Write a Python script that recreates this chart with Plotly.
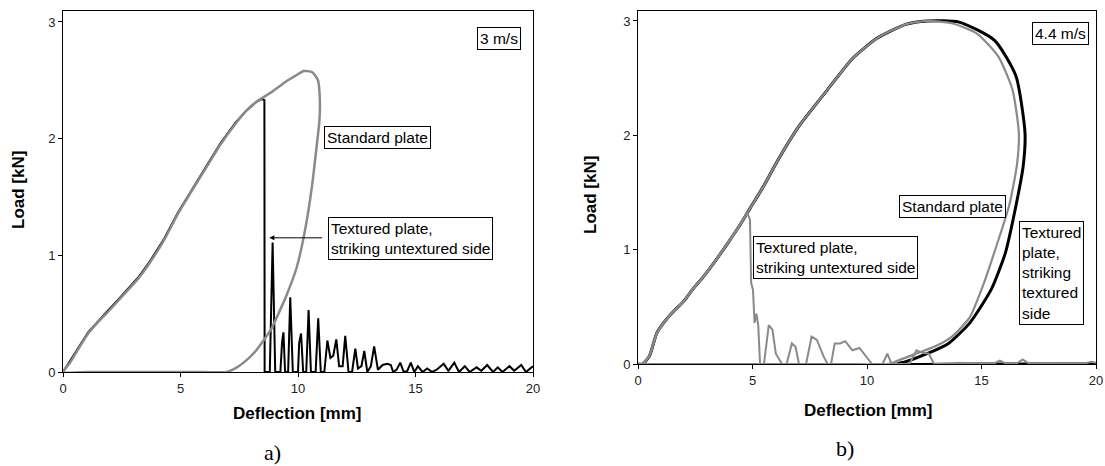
import plotly.graph_objects as go
from plotly.subplots import make_subplots

# ---------- Panel a) 3 m/s ----------
a_std_x = [0, 0.3, 0.6, 1.07, 1.5, 1.84, 2.3, 2.75, 3.2, 3.67, 4.3, 4.9, 5.5, 6.12, 6.7, 7.35, 7.8, 8.26, 8.88, 9.49, 9.9, 10.25, 10.6, 10.85, 10.93, 10.91, 10.83, 10.6, 10.33, 9.95, 9.49, 9.1, 8.88, 8.57, 8.2, 7.8, 7.4, 6.96, 6.0, 5.0, 4.0, 3.0, 2.0, 1.0, 0.0]
a_std_y = [0, 0.08, 0.18, 0.33, 0.43, 0.5, 0.6, 0.70, 0.80, 0.93, 1.13, 1.36, 1.56, 1.76, 1.95, 2.13, 2.24, 2.32, 2.40, 2.49, 2.54, 2.58, 2.57, 2.5, 2.33, 2.15, 2.0, 1.6, 1.25, 0.9, 0.647, 0.47, 0.376, 0.28, 0.18, 0.1, 0.04, 0.0, 0.0, 0.0, 0.0, 0.0, 0.0, 0.0, 0.0]

a_tex_x = [0, 0.3, 0.6, 1.07, 1.5, 1.84, 2.3, 2.75, 3.2, 3.67, 4.3, 4.9, 5.5, 6.12, 6.7, 7.35, 7.8, 8.2, 8.46, 8.57, 8.58, 8.8, 8.92, 9.03, 9.25, 9.32, 9.38, 9.45, 9.58, 9.67, 9.78, 10.0, 10.05, 10.13, 10.22, 10.35, 10.45, 10.55, 10.75, 10.86, 10.97, 11.12, 11.25, 11.38, 11.5, 11.63, 11.75, 11.9, 12.01, 12.15, 12.3, 12.44, 12.55, 12.7, 12.82, 12.95, 13.1, 13.24, 13.4, 13.6, 13.8, 13.95, 14.05, 14.2, 14.35, 14.5, 14.65, 14.8, 14.95, 15.1, 15.3, 15.5, 15.7, 15.9, 16.2, 16.4, 16.65, 16.85, 17.1, 17.3, 17.6, 17.8, 18.05, 18.3, 18.5, 18.7, 19.0, 19.2, 19.5, 19.7, 20.0]
a_tex_y = [0, 0.09, 0.19, 0.34, 0.44, 0.51, 0.61, 0.71, 0.81, 0.94, 1.14, 1.37, 1.57, 1.77, 1.96, 2.14, 2.24, 2.31, 2.34, 2.33, 0.0, 0.0, 1.11, 0.0, 0.0, 0.25, 0.34, 0.0, 0.0, 0.64, 0.0, 0.0, 0.25, 0.33, 0.0, 0.0, 0.53, 0.0, 0.0, 0.46, 0.0, 0.0, 0.27, 0.12, 0.14, 0.28, 0.05, 0.05, 0.31, 0.0, 0.0, 0.2, 0.03, 0.05, 0.18, 0.0, 0.05, 0.22, 0.02, 0.06, 0.07, 0.06, 0.0, 0.02, 0.08, 0.0, 0.01, 0.08, 0.0, 0.05, 0.0, 0.03, 0.0, 0.02, 0.07, 0.01, 0.08, 0.0, 0.05, 0.0, 0.04, 0.01, 0.06, 0.0, 0.04, 0.0, 0.05, 0.01, 0.06, 0.0, 0.05]

# ---------- Panel b) 4.4 m/s ----------
b_std_x = [0, 0.2, 0.5, 0.82, 1.2, 1.6, 2.0, 2.38, 2.84, 3.3, 3.93, 4.4, 4.86, 5.5, 6.1, 7.03, 8.28, 9.36, 10.45, 11.69, 12.62, 13.71, 14.8, 15.73, 16.35, 16.63, 16.54, 16.2, 15.73, 15.11, 14.49, 13.71, 12.93, 12.0, 11.23, 10.92, 9.0, 6.0, 3.0, 0.0]
b_std_y = [0, 0.0, 0.07, 0.27, 0.38, 0.47, 0.55, 0.65, 0.76, 0.88, 1.06, 1.2, 1.35, 1.56, 1.78, 2.08, 2.4, 2.67, 2.85, 2.97, 3.0, 2.98, 2.89, 2.69, 2.4, 2.02, 1.73, 1.38, 1.08, 0.71, 0.41, 0.24, 0.15, 0.08, 0.02, 0.0, 0.0, 0.0, 0.0, 0.0]

b_txt_x = [0, 0.2, 0.5, 0.82, 1.2, 1.6, 2.0, 2.38, 2.84, 3.3, 3.93, 4.4, 4.86, 5.5, 6.1, 7.03, 8.28, 9.36, 10.45, 11.69, 12.62, 14.02, 15.57, 16.5, 16.9, 16.82, 16.5, 16.04, 15.42, 14.49, 13.56, 12.62, 11.69, 11.3, 14.0, 17.0, 20.0]
b_txt_y = [0, 0.0, 0.07, 0.27, 0.38, 0.47, 0.55, 0.65, 0.76, 0.88, 1.06, 1.2, 1.35, 1.56, 1.78, 2.08, 2.4, 2.67, 2.85, 2.97, 3.0, 2.99, 2.83, 2.52, 2.02, 1.73, 1.38, 0.97, 0.65, 0.36, 0.18, 0.09, 0.02, 0.0, 0.0, 0.0, 0.0]

b_unt_x = [0, 0.2, 0.5, 0.82, 1.2, 1.6, 2.0, 2.38, 2.84, 3.3, 3.93, 4.4, 4.78, 4.89, 4.94, 5.02, 5.09, 5.17, 5.25, 5.33, 5.5, 5.71, 5.87, 6.02, 6.18, 6.29, 6.49, 6.72, 6.88, 7.03, 7.34, 7.58, 7.81, 8.12, 8.28, 8.43, 8.59, 8.82, 9.05, 9.36, 9.67, 9.98, 10.22, 10.68, 10.89, 11.07, 11.85, 12.16, 12.4, 12.7, 12.93, 13.8, 14.0, 15.5, 15.8, 16.1, 16.5, 16.8, 17.1, 17.6, 17.8, 18.0, 19.4, 19.8, 20.0]
b_unt_y = [0, 0.0, 0.07, 0.27, 0.38, 0.47, 0.55, 0.65, 0.76, 0.88, 1.06, 1.2, 1.32, 1.26, 0.71, 0.65, 0.36, 0.44, 0.34, 0.0, 0.0, 0.34, 0.3, 0.09, 0.03, 0.0, 0.0, 0.18, 0.15, 0.0, 0.0, 0.24, 0.21, 0.06, 0.0, 0.0, 0.18, 0.18, 0.2, 0.12, 0.14, 0.06, 0.0, 0.0, 0.09, 0.0, 0.0, 0.12, 0.1, 0.09, 0.0, 0.0, 0.01, 0.0, 0.03, 0.0, 0.0, 0.04, 0.0, 0.0, 0.01, 0.0, 0.0, 0.02, 0.01]

x_ticks = [0, 5, 10, 15, 20]
y_ticks = [0, 1, 2, 3]

BLACK = "#000000"
GREY = "#8a8a8a"
W, H = 1105, 466

fig = make_subplots(rows=1, cols=2)

fig.add_trace(go.Scatter(x=a_tex_x, y=a_tex_y, mode="lines", line=dict(color=BLACK, width=2)), 1, 1)
fig.add_trace(go.Scatter(x=a_std_x, y=a_std_y, mode="lines", line=dict(color=GREY, width=2.5, shape="spline", smoothing=0.6)), 1, 1)

fig.add_trace(go.Scatter(x=b_txt_x, y=b_txt_y, mode="lines", line=dict(color=BLACK, width=3, shape="spline", smoothing=0.6)), 1, 2)
fig.add_trace(go.Scatter(x=b_std_x, y=b_std_y, mode="lines", line=dict(color=GREY, width=2.2, shape="spline", smoothing=0.6)), 1, 2)
fig.add_trace(go.Scatter(x=b_unt_x, y=b_unt_y, mode="lines", line=dict(color=GREY, width=2)), 1, 2)

axis_common = dict(showgrid=False, zeroline=False, showline=True, linecolor="black", linewidth=1,
                   mirror=True, ticks="outside", ticklen=4, tickcolor="black", automargin=False,
                   tickfont=dict(family="Arial, Liberation Sans", size=13, color="#222"))

fig.update_xaxes(**axis_common, range=[0, 20], tickvals=x_ticks)
fig.update_yaxes(**axis_common, tickvals=y_ticks)

fig.update_layout(
    xaxis=dict(domain=[63 / W, 533 / W]),
    yaxis=dict(domain=[(H - 372) / H, (H - 11) / H], range=[0, 3.094]),
    xaxis2=dict(domain=[638 / W, 1096 / W]),
    yaxis2=dict(domain=[(H - 364) / H, (H - 11) / H], range=[0, 3.087]),
    width=W, height=H, margin=dict(l=0, r=0, t=0, b=0, autoexpand=False),
    paper_bgcolor="white", plot_bgcolor="white", showlegend=False,
)

fnt = dict(family="Arial, Liberation Sans", size=15.5, color="black")
bold = dict(family="Arial, Liberation Sans", size=17, color="black", weight="bold")
serif = dict(family="Times New Roman, Liberation Serif", size=22, color="black")

def box(text, x, y, xref, yref, xanchor="left"):
    fig.add_annotation(text=text, x=x, y=y, xref=xref, yref=yref, showarrow=False,
                       xanchor=xanchor, yanchor="middle", align="left", font=fnt,
                       bordercolor="black", borderwidth=1, borderpad=2, bgcolor="white")

# panel a annotations
box("3 m/s", 18.55, 2.86, "x", "y", xanchor="center")
box("Standard plate", 11.09, 2.01, "x", "y")
box("Textured plate,<br>striking untextured side", 11.26, 1.14, "x", "y")
fig.add_annotation(x=8.78, y=1.15, ax=11.09, ay=1.15, xref="x", yref="y", axref="x", ayref="y",
                   showarrow=True, arrowhead=2, arrowsize=1, arrowwidth=1, arrowcolor="black", text="")

# panel b annotations
box("4.4 m/s", 18.47, 2.89, "x2", "y2", xanchor="center")
box("Standard plate", 11.4, 1.38, "x2", "y2")
box("Textured plate,<br>striking untextured side", 5.02, 0.93, "x2", "y2")
box("Textured<br>plate,<br>striking<br>textured<br>side", 16.64, 0.80, "x2", "y2")

# axis titles & panel labels
fig.add_annotation(text="Deflection [mm]", x=297 / W, y=(H - 413) / H, xref="paper", yref="paper",
                   showarrow=False, font=bold, xanchor="center", yanchor="middle")
fig.add_annotation(text="Deflection [mm]", x=868 / W, y=(H - 410) / H, xref="paper", yref="paper",
                   showarrow=False, font=bold, xanchor="center", yanchor="middle")
fig.add_annotation(text="Load [kN]", x=18 / W, y=(H - 190) / H, xref="paper", yref="paper",
                   showarrow=False, font=bold, textangle=-90, xanchor="center", yanchor="middle")
fig.add_annotation(text="Load [kN]", x=590 / W, y=(H - 195) / H, xref="paper", yref="paper",
                   showarrow=False, font=bold, textangle=-90, xanchor="center", yanchor="middle")
fig.add_annotation(text="a)", x=272 / W, y=(H - 452) / H, xref="paper", yref="paper",
                   showarrow=False, font=serif, xanchor="center", yanchor="middle")
fig.add_annotation(text="b)", x=845 / W, y=(H - 448) / H, xref="paper", yref="paper",
                   showarrow=False, font=serif, xanchor="center", yanchor="middle")

fig.write_html("out.html", config={"displayModeBar": False},
               post_script="document.body.style.margin='0px';document.body.style.overflow='hidden';")
